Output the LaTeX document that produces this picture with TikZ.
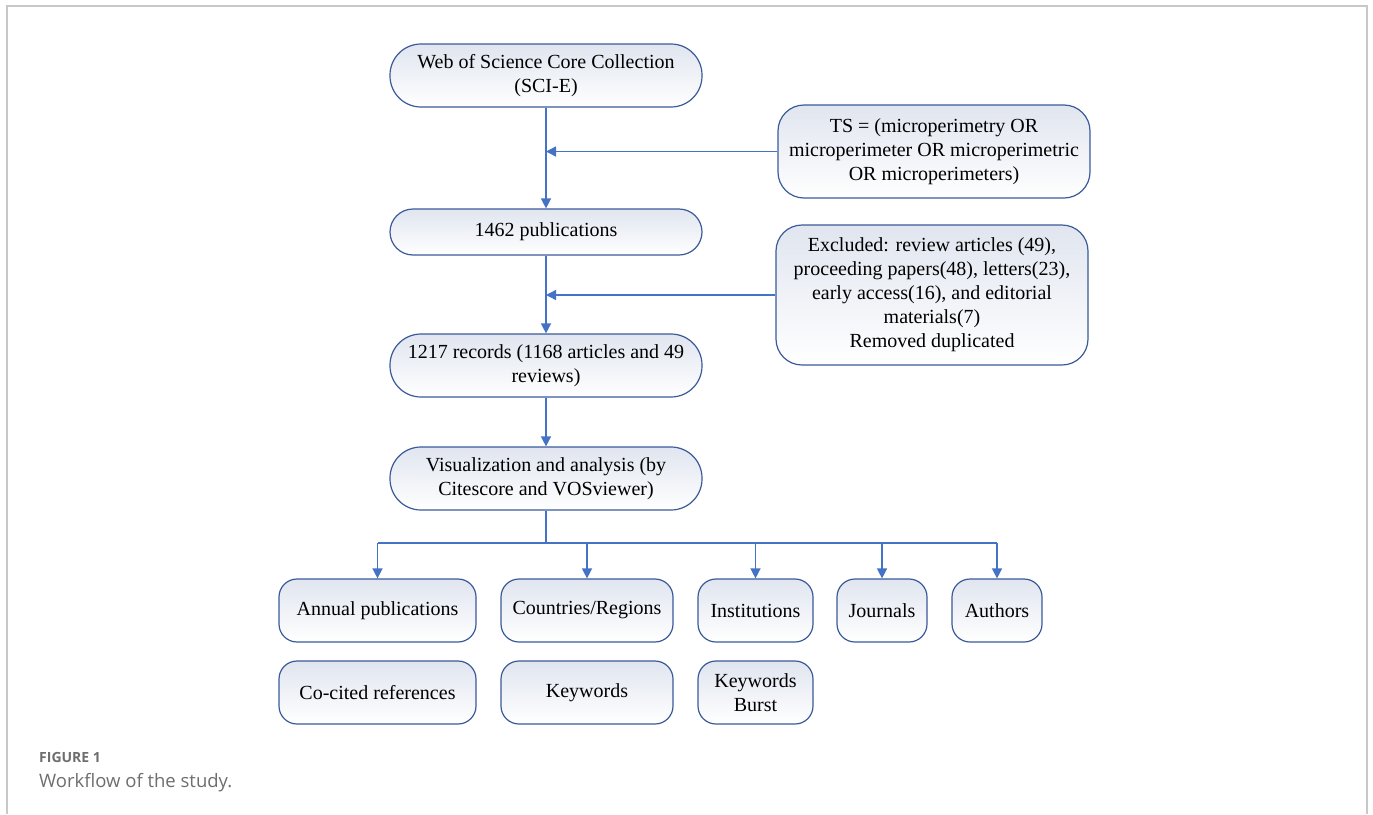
\documentclass[tikz,border=0pt]{standalone}
\usepackage{fontspec}
\setmainfont{Liberation Serif}
\newfontfamily\capfont{Open Sans}
\usetikzlibrary{arrows.meta}
\definecolor{lineblue}{HTML}{4472C4}
\definecolor{boxedge}{HTML}{3A5A9A}
\definecolor{boxtop}{HTML}{E0E5EF}
\definecolor{framegray}{HTML}{C8C8C8}
\definecolor{capgray}{HTML}{6E6E6E}
\tikzset{
  box/.style={draw=boxedge, line width=1.2pt, top color=boxtop, bottom color=white,
    align=center, font=\fontsize{20}{24}\selectfont, inner sep=0pt},
  topbox/.style={box, minimum width=312pt, minimum height=63pt, rounded corners=31pt},
  sidebox/.style={box, minimum width=312pt, rounded corners=26pt},
  leaf/.style={box, minimum height=63pt, rounded corners=18pt},
  conn/.style={draw=lineblue, line width=1.4pt},
  arr/.style={conn, -{Triangle[length=10pt,width=10pt]}},
}
\begin{document}
\begin{tikzpicture}[x=1pt,y=-1pt]
\useasboundingbox (0,0) rectangle (1373,814);
\fill[white] (0,0) rectangle (1373,814);
\draw[framegray, line width=2pt] (7,814) -- (7,6) -- (1367,6) -- (1367,814);

\node[topbox] (wos) at (546,75.5) {Web of Science Core Collection\\(SCI-E)};
\node[sidebox, minimum height=93pt] (ts) at (934,151.5) {TS = (microperimetry OR\\microperimeter OR microperimetric\\OR microperimeters)};
\node[topbox, minimum height=46pt, rounded corners=23pt] (pub) at (546,232) {1462 publications};
\node[sidebox, minimum height=140pt] (exc) at (932,295) {Excluded: review articles (49),\\proceeding papers(48), letters(23),\\early access(16), and editorial\\materials(7)\\Removed duplicated};
\node[topbox] (rec) at (546,365.5) {1217 records (1168 articles and 49\\reviews)};
\node[topbox] (vis) at (546,478.5) {Visualization and analysis (by\\Citescore and VOSviewer)};

\node[leaf, minimum width=197pt] (annual) at (377.5,610.5) {Annual publications};
\node[leaf, minimum width=172pt] (country) at (587,610.5) {Countries/Regions};
\node[leaf, minimum width=115pt] (inst) at (755.5,610.5) {Institutions};
\node[leaf, minimum width=90pt] (jour) at (882,610.5) {Journals};
\node[leaf, minimum width=90pt] (auth) at (997,610.5) {Authors};
\node[leaf, minimum width=197pt] (cocit) at (377.5,692.5) {Co-cited references};
\node[leaf, minimum width=172pt] (kw) at (587,692.5) {Keywords};
\node[leaf, minimum width=115pt] (burst) at (755.5,692.5) {Keywords\\Burst};

\coordinate (j1) at (546,151.5);
\coordinate (j2) at (546,295);
\coordinate (bus) at (546,543);

\draw[arr] (wos) -- (pub);
\draw[arr] (ts.west) -- (j1);
\draw[arr] (pub) -- (rec);
\draw[arr] (exc.west) -- (j2);
\draw[arr] (rec) -- (vis);
\draw[conn] (vis.south) -- (bus);
\draw[conn] (annual.north |- bus) -- (auth.north |- bus);
\foreach \n in {annual,country,inst,jour,auth}
  \draw[arr] (\n.north |- bus) -- (\n.north);

\node[anchor=west, text=capgray, font=\capfont\bfseries\fontsize{14}{16}\selectfont, inner sep=0pt] (figlab) at (39,757) {FIGURE 1};
\node[anchor=west, text=capgray, font=\capfont\fontsize{18.5}{22}\selectfont, inner sep=0pt] (figcap) at (39,783) {Workflow of the study.};
\end{tikzpicture}
\end{document}
